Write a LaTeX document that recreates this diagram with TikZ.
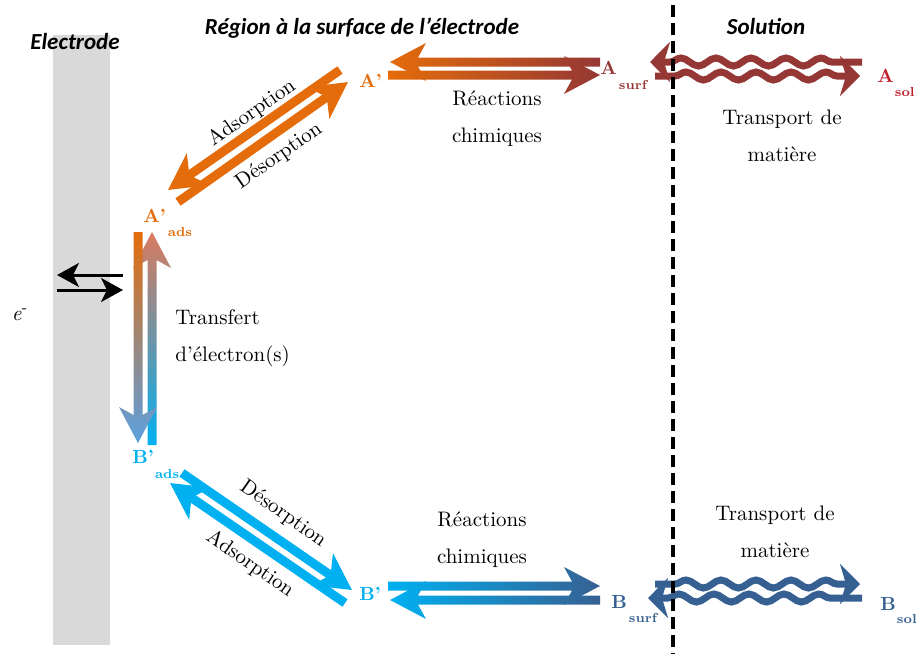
\documentclass[tikz,border=0pt]{standalone}
\usepackage{fontspec}
\newfontfamily\headfont{Carlito}
\usepackage{xcolor}
\definecolor{aorange}{HTML}{E46C0A}
\definecolor{ared}{HTML}{953735}
\definecolor{asolred}{HTML}{C0202A}
\definecolor{asalmon}{HTML}{D97A5E}
\definecolor{bcyan}{HTML}{00B0F0}
\definecolor{bblue}{HTML}{376092}
\definecolor{blight}{HTML}{5BA0E0}
\definecolor{electrodegray}{HTML}{D9D9D9}
\usepackage{tikz}
\usetikzlibrary{arrows.meta, calc, decorations.pathmorphing}

\newcommand{\subfont}{\fontsize{6.5}{8}\selectfont\bfseries}
% block arrow with a gradient: #1 shading, #2 tail, #3 tip
\newcommand{\shadearrow}[3]{%
  \coordinate (sa-base) at ($(#3)!18pt!(#2)$);
  \coordinate (sa-join) at ($(#3)!14pt!(#2)$);
  \shade[#1] ($(#2)!2.25pt!90:(#3)$) -- ($(sa-join)!2.25pt!90:(#3)$)
    -- ($(sa-base)!9.5pt!90:(#3)$) -- (#3) -- ($(sa-base)!9.5pt!-90:(#3)$)
    -- ($(sa-join)!2.25pt!-90:(#3)$) -- ($(#2)!2.25pt!-90:(#3)$) -- cycle;
}

\begin{document}
\begin{tikzpicture}[x=0.5pt, y=-0.5pt,
  lbl/.style={font=\fontsize{9.5}{12}\selectfont\bfseries, inner sep=0pt, anchor=base west},
  body/.style={font=\fontsize{10.5}{18.5}\selectfont, align=center},
  head/.style={font=\headfont\fontsize{11.5}{14}\selectfont\bfseries\itshape},
  slanted/.style={font=\fontsize{10.5}{12}\selectfont},
  block/.style={line width=4.5pt, -{Stealth[length=18pt, width=19pt, inset=5pt]}},
  wavy/.style={line width=3.5pt, decorate,
    decoration={snake, amplitude=2pt, segment length=17.5pt, pre length=10pt, post length=10pt}},
  eline/.style={line width=1.5pt, -{Stealth[length=11pt, width=12pt, inset=3pt]}}]
  \useasboundingbox (0,0) rectangle (919,654);

  % --- Electrode ---
  \fill[electrodegray] (53,35) rectangle (110,645);
  \node[head] (hElec) at (75,42) {Electrode};
  \node[head] (hRegion) at (362,28) {Région à la surface de l’électrode};
  \node[head] (hSol) at (766,27) {Solution};

  \node[font=\fontsize{10.5}{12}\selectfont] (elec) at (20,315) {\textit{e}\textsuperscript{-}};
  \coordinate (eL1) at (123,275); \coordinate (eL2) at (57,275);
  \coordinate (eR1) at (57,290);  \coordinate (eR2) at (123,290);
  \draw[eline] (eL1) -- (eL2);
  \draw[eline] (eR1) -- (eR2);

  % --- Species ---
  \node[lbl, text=aorange] (Ap) at (359,87) {A’};
  \node[lbl, text=ared] (Asurf) at (600,74) {A\hspace{1pt}\raisebox{-7.5pt}{\subfont surf}};
  \node[lbl, text=asolred] (Asol) at (877,82) {A\hspace{0.5pt}\raisebox{-7pt}{\subfont sol}};
  \node[lbl, text=aorange] (Aads) at (143,222) {A’\hspace{1pt}\raisebox{-7pt}{\subfont ads}};
  \node[lbl, text=bcyan] (Bads) at (132,463) {B’\hspace{0.5pt}\raisebox{-7.5pt}{\subfont ads}};
  \node[lbl, text=bcyan] (Bp) at (359,600) {B’};
  \node[lbl, text=bblue] (Bsurf) at (611,608) {B\hspace{1pt}\raisebox{-7pt}{\subfont surf}};
  \node[lbl, text=bblue] (Bsol) at (880,610) {B\hspace{0.5pt}\raisebox{-6.5pt}{\subfont sol}};

  % --- Adsorption / desorption of A' ---
  \coordinate (adA1) at (340,70);  \coordinate (adA2) at (168,190);
  \coordinate (deA1) at (178,202); \coordinate (deA2) at (348,82);
  \draw[block, aorange] (adA1) -- (adA2);
  \draw[block, aorange] (deA1) -- (deA2);
  \node[slanted, rotate=35] (tAdsA) at (252,113) {Adsorption};
  \node[slanted, rotate=35] (tDesA) at (279,156) {Désorption};

  % --- Adsorption / desorption of B' ---
  \coordinate (deB1) at (182,473); \coordinate (deB2) at (352,590);
  \coordinate (adB1) at (345,603); \coordinate (adB2) at (170,483);
  \draw[block, bcyan] (deB1) -- (deB2);
  \draw[block, bcyan] (adB1) -- (adB2);
  \node[slanted, rotate=-35] (tDesB) at (283,514) {Désorption};
  \node[slanted, rotate=-35] (tAdsB) at (250,564) {Adsorption};

  % --- Electron transfer ---
  \coordinate (trL1) at (138,232); \coordinate (trL2) at (138,443);
  \coordinate (trR1) at (152,445); \coordinate (trR2) at (152,232);
  \shadearrow{top color=asalmon, bottom color=bcyan}{trR1}{trR2}
  \shadearrow{top color=aorange, bottom color=blight}{trL1}{trL2}
  \node[body, align=left, anchor=west, inner sep=0pt] (tTrans) at (175,338) {Transfert\\d’électron(s)};

  % --- Chemical reactions ---
  \coordinate (rxA1) at (600,62); \coordinate (rxA2) at (390,62);
  \coordinate (rxA3) at (388,75); \coordinate (rxA4) at (600,75);
  \shadearrow{left color=aorange, right color=ared}{rxA1}{rxA2}
  \shadearrow{left color=aorange, right color=ared}{rxA3}{rxA4}
  \node[body] (tReacA) at (497,119) {Réactions\\chimiques};

  \coordinate (rxB1) at (388,586); \coordinate (rxB2) at (600,586);
  \coordinate (rxB3) at (600,600); \coordinate (rxB4) at (390,600);
  \shadearrow{left color=bcyan, right color=bblue}{rxB1}{rxB2}
  \shadearrow{left color=bcyan, right color=bblue}{rxB3}{rxB4}
  \node[body] (tReacB) at (482,540) {Réactions\\chimiques};

  % --- Mass transport ---
  \coordinate (wA1) at (650,62); \coordinate (wA2) at (862,62);
  \coordinate (wA3) at (655,76); \coordinate (wA4) at (860,76);
  \draw[wavy, ared, {Stealth[length=10pt, width=20pt, inset=3pt]}-] (wA1) -- (wA2);
  \draw[wavy, ared, -{Stealth[length=10pt, width=20pt, inset=3pt]}] (wA3) -- (wA4);
  \node[body] (tTrA) at (782,136) {Transport de\\matière};

  \coordinate (wB1) at (655,584); \coordinate (wB2) at (860,584);
  \coordinate (wB3) at (648,598); \coordinate (wB4) at (862,598);
  \draw[wavy, bblue, -{Stealth[length=10pt, width=20pt, inset=3pt]}] (wB1) -- (wB2);
  \draw[wavy, bblue, {Stealth[length=10pt, width=20pt, inset=3pt]}-] (wB3) -- (wB4);
  \node[body] (tTrB) at (775,532) {Transport de\\matière};

  % --- Boundary ---
  \coordinate (divTop) at (673,5); \coordinate (divBot) at (673,654);
  \draw[line width=2pt, dash pattern=on 6pt off 3pt] (divTop) -- (divBot);
\end{tikzpicture}
\end{document}
